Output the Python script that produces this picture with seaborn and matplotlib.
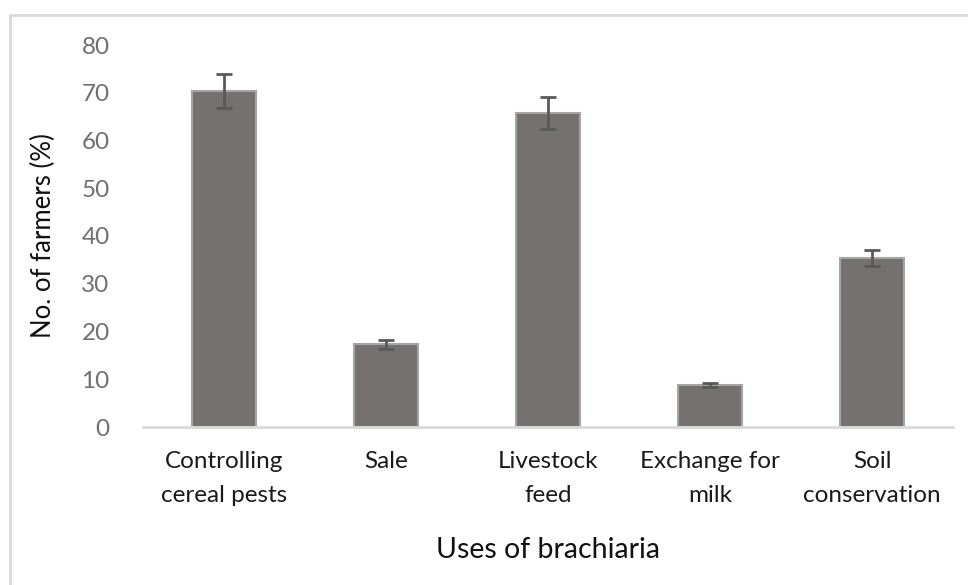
import matplotlib
matplotlib.use("Agg")
import matplotlib.pyplot as plt
import seaborn as sns
import pandas as pd
from matplotlib.lines import Line2D

categories = ["Controlling cereal pests", "Sale", "Livestock feed", "Exchange for milk", "Soil conservation"]
tick_labels = ["Controlling\ncereal pests", "Sale", "Livestock\nfeed", "Exchange for\nmilk", "Soil\nconservation"]
values = [70.4, 17.3, 65.8, 8.8, 35.4]
errors = [3.5, 0.9, 3.4, 0.5, 1.75]
y_ticks = [0, 10, 20, 30, 40, 50, 60, 70, 80]

sns.set_theme(style="white")
plt.rcParams['font.family'] = ['Lato', 'DejaVu Sans']

W, H = 968, 585
fig = plt.figure(figsize=(W/100, H/100), dpi=100)
ax = fig.add_axes([143/W, 1-427/H, (953-143)/W, (427-45)/H])

df = pd.DataFrame({"use": categories, "pct": values})
sns.barplot(data=df, x="use", y="pct", ax=ax, width=0.4, color="#767171",
            edgecolor="#a5a5a5", linewidth=1.5, saturation=1, errorbar=None)
ax.errorbar(x=list(range(len(categories))), y=values, yerr=errors, fmt="none",
            ecolor="#595959", elinewidth=2, capsize=6, capthick=2)

ax.set_ylim(0, 80)
ax.set_xlim(-0.5, len(categories)-0.5)
ax.set_yticks(y_ticks)
ax.set_yticklabels([str(t) for t in y_ticks], fontsize=17.5, color="#6f6f6f")
ax.set_xticks(range(len(categories)))
ax.set_xticklabels(tick_labels, fontsize=17.5, color="#1a1a1a", linespacing=1.8)
ax.tick_params(axis="y", length=0, pad=24)
ax.tick_params(axis="x", length=0, pad=17)
for s in ["top", "right", "left"]:
    ax.spines[s].set_visible(False)
ax.spines["bottom"].set_color("#d9d9d9")
ax.spines["bottom"].set_linewidth(2)
ax.set_xlabel("Uses of brachiaria", fontsize=20.5, color="#111111", labelpad=22)
ax.set_ylabel("No. of farmers (%)", fontsize=18.5, color="#111111", labelpad=18)
ax.grid(False)

# outer chart border
fig.add_artist(Line2D([10/W, 10/W], [0, 1-15/H], color="#d9d9d9", lw=2))
fig.add_artist(Line2D([10/W, 1], [1-15/H, 1-15/H], color="#d9d9d9", lw=2))

fig.savefig("out.png", dpi=100, facecolor="white")
